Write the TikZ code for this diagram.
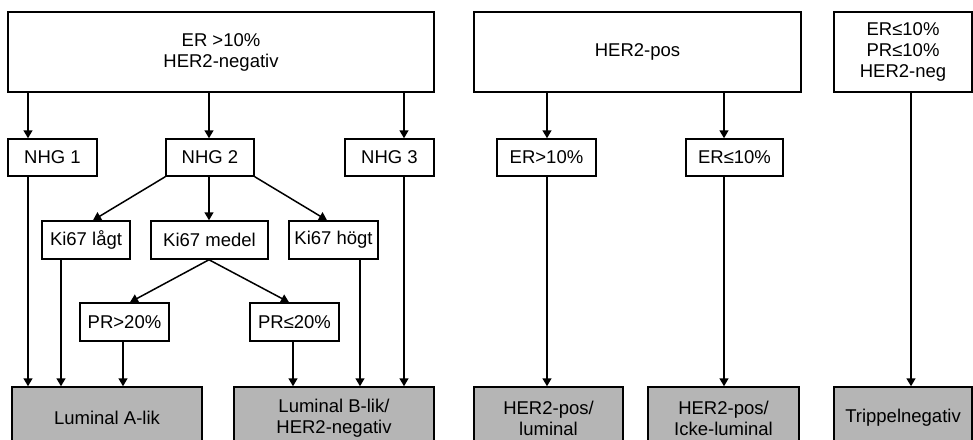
\documentclass[tikz,border=0pt]{standalone}
\usepackage{fontspec}
\setmainfont{Liberation Sans}
\usetikzlibrary{arrows.meta}
\begin{document}
\begin{tikzpicture}[x=1pt,y=-1pt,
  every node/.style={font=\fontsize{18.5}{21}\selectfont, align=center, inner sep=0pt},
  box/.style={draw=black, line width=1.5pt, fill=white, rectangle},
  outbox/.style={draw=black, line width=1.5pt, fill=black!29, rectangle},
  arr/.style={line width=1.5pt, -{Triangle[width=9pt,length=8pt]}},
  ln/.style={line width=1.5pt}]
\useasboundingbox (0,0) rectangle (973,439);
\clip (0,0) rectangle (973,439);
% top boxes
\node[box, minimum width=426pt, minimum height=80pt] (top1) at (221,52) {ER >10\%\\HER2-negativ};
\node[box, minimum width=327pt, minimum height=80pt] (top2) at (637.5,52) {HER2-pos};
\node[box, minimum width=138pt, minimum height=80pt] (top3) at (903,52) {ER≤10\%\\PR≤10\%\\HER2-neg};
% NHG
\node[box, minimum width=89pt, minimum height=37pt] (nhg1) at (52.5,157.5) {NHG 1};
\node[box, minimum width=88pt, minimum height=37pt] (nhg2) at (210,157.5) {NHG 2};
\node[box, minimum width=89pt, minimum height=37pt] (nhg3) at (389.5,157.5) {NHG 3};
\node[box, minimum width=99pt, minimum height=37pt] (er1) at (546.5,157.5) {ER>10\%};
\node[box, minimum width=97pt, minimum height=37pt] (er2) at (734.5,157.5) {ER≤10\%};
% Ki67
\node[box, minimum width=88pt, minimum height=38pt] (k1) at (86,240) {Ki67 lågt};
\node[box, minimum width=117pt, minimum height=38pt] (k2) at (209.5,240) {Ki67 medel};
\node[box, minimum width=89pt, minimum height=38pt] (k3) at (333.5,240) {Ki67 högt};
% PR
\node[box, minimum width=89pt, minimum height=38pt] (pr1) at (124.5,322) {PR>20\%};
\node[box, minimum width=89pt, minimum height=38pt] (pr2) at (294.5,322) {PR≤20\%};
% outcomes
\node[outbox, minimum width=190pt, minimum height=62pt] (lumA) at (107,418) {Luminal A-lik};
\node[outbox, minimum width=200pt, minimum height=62pt] (lumB) at (334,418) {Luminal B-lik/\\HER2-negativ};
\node[outbox, minimum width=149pt, minimum height=62pt] (h1) at (548.5,418) {HER2-pos/\\luminal};
\node[outbox, minimum width=151pt, minimum height=62pt] (h2) at (723.5,418) {HER2-pos/\\Icke-luminal};
\node[outbox, minimum width=138pt, minimum height=62pt] (tn) at (903,418) {Trippelnegativ};
% x-positions for vertical connectors
\coordinate (xa) at (28,0);
\coordinate (xb) at (209,0);
\coordinate (xc) at (404,0);
\coordinate (xd) at (61,0);
\coordinate (xe) at (123,0);
\coordinate (xf) at (293,0);
\coordinate (xg) at (360,0);
\coordinate (xh) at (547,0);
\coordinate (xi) at (724,0);
\coordinate (xj) at (911,0);
\coordinate (xk) at (93,0);
\coordinate (xl) at (327,0);
\coordinate (xm) at (130,0);
\coordinate (xn) at (289,0);
% connectors
\draw[arr] (top1.south -| xa) -- (nhg1.north -| xa);
\draw[arr] (top1.south -| xb) -- (nhg2.north -| xb);
\draw[arr] (top1.south -| xc) -- (nhg3.north -| xc);
\draw[arr] (nhg2.south -| xb) -- (k2.north -| xb);
\draw[arr] (nhg2.south west) -- (k1.north -| xk);
\draw[arr] (nhg2.south east) -- (k3.north -| xl);
\draw[arr] (k2.south -| xb) -- (pr1.north -| xm);
\draw[arr] (k2.south -| xb) -- (pr2.north -| xn);
\draw[arr] (nhg1.south -| xa) -- (lumA.north -| xa);
\draw[arr] (k1.south -| xd) -- (lumA.north -| xd);
\draw[arr] (pr1.south -| xe) -- (lumA.north -| xe);
\draw[arr] (pr2.south -| xf) -- (lumB.north -| xf);
\draw[arr] (k3.south -| xg) -- (lumB.north -| xg);
\draw[arr] (nhg3.south -| xc) -- (lumB.north -| xc);
\draw[arr] (top2.south -| xh) -- (er1.north -| xh);
\draw[arr] (top2.south -| xi) -- (er2.north -| xi);
\draw[arr] (er1.south -| xh) -- (h1.north -| xh);
\draw[arr] (er2.south -| xi) -- (h2.north -| xi);
\draw[arr] (top3.south -| xj) -- (tn.north -| xj);
\end{tikzpicture}
\end{document}
